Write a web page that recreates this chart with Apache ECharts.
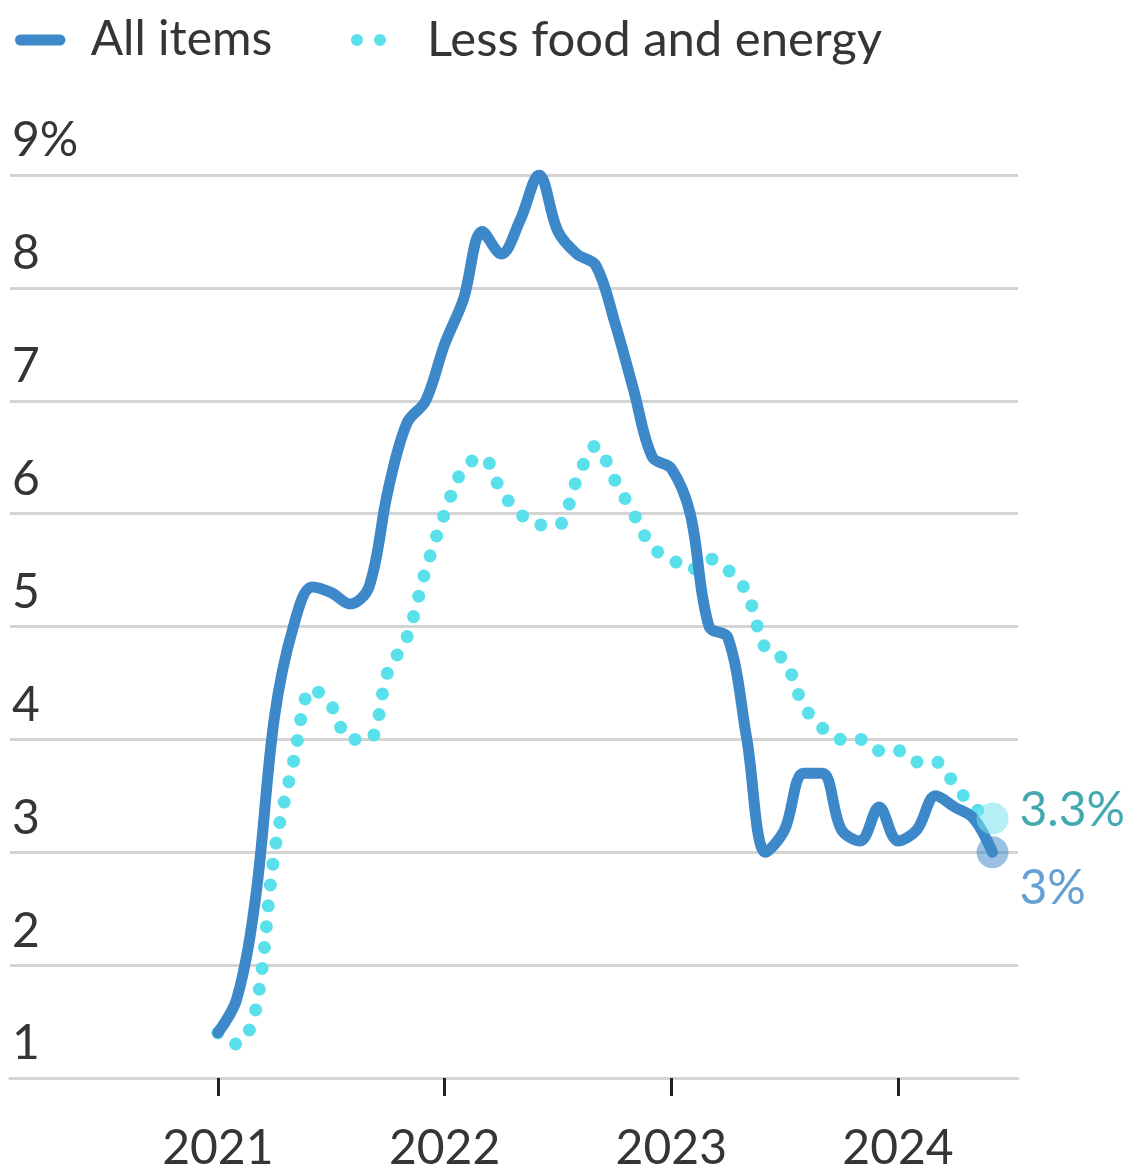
<!DOCTYPE html>
<html>
<head>
<meta charset="utf-8">
<script src="https://cdn.jsdelivr.net/npm/echarts@6/dist/echarts.min.js"></script>
<style>
  html, body { margin: 0; padding: 0; background: #fff; overflow: hidden; }
  #chart { width: 1127px; height: 1169px; }
</style>
</head>
<body>
<div id="chart"></div>
<script>
// Monthly CPI, year-over-year change (%), Jan 2021 – Jun 2024
const months = [
  '2021-01','2021-02','2021-03','2021-04','2021-05','2021-06','2021-07','2021-08','2021-09','2021-10','2021-11','2021-12',
  '2022-01','2022-02','2022-03','2022-04','2022-05','2022-06','2022-07','2022-08','2022-09','2022-10','2022-11','2022-12',
  '2023-01','2023-02','2023-03','2023-04','2023-05','2023-06','2023-07','2023-08','2023-09','2023-10','2023-11','2023-12',
  '2024-01','2024-02','2024-03','2024-04','2024-05','2024-06'
];
const allItems = [
  1.4, 1.7, 2.6, 4.2, 5.0, 5.35, 5.3, 5.2, 5.35, 6.2, 6.8, 7.0,
  7.5, 7.9, 8.5, 8.3, 8.6, 9.0, 8.5, 8.3, 8.2, 7.7, 7.1, 6.5,
  6.4, 6.0, 5.0, 4.9, 4.0, 3.0, 3.2, 3.7, 3.7, 3.2, 3.1, 3.4,
  3.1, 3.2, 3.5, 3.4, 3.3, 3.0
];
const lessFoodEnergy = [
  1.4, 1.3, 1.6, 3.0, 3.8, 4.45, 4.3, 4.0, 4.0, 4.6, 4.9, 5.5,
  6.0, 6.4, 6.5, 6.2, 6.0, 5.9, 5.9, 6.3, 6.6, 6.3, 6.0, 5.7,
  5.6, 5.5, 5.6, 5.5, 5.3, 4.8, 4.7, 4.3, 4.1, 4.0, 4.0, 3.9,
  3.9, 3.8, 3.8, 3.6, 3.4, 3.3
];
const yearTickMonths = ['2021-01', '2022-01', '2023-01', '2024-01'];
const yearLabels = ['2021', '2022', '2023', '2024'];
const yTicks = [1, 2, 3, 4, 5, 6, 7, 8, 9];

const BLUE = '#3d88c8';
const CYAN = '#5ae0ea';
const TEAL = '#14939a';
const TEXT = '#353535';
const FONT = 'Lato, "Noto Sans", sans-serif';
const FS = 48;

const toPairs = vals => vals.map((v, i) => [i, v]);
const tickIdx = yearTickMonths.map(m => months.indexOf(m));
const last = months.length - 1;

const chart = echarts.init(document.getElementById('chart'), null, { renderer: 'canvas' });

chart.setOption({
  animation: false,
  backgroundColor: '#fff',
  textStyle: { fontFamily: FONT },
  legend: [
    {
      data: [{ name: 'All items', icon: 'path://M6,0 H49 A6,6 0 0 1 49,12 H6 A6,6 0 0 1 6,0 Z', itemStyle: { color: BLUE } }],
      left: 10, top: 7, itemWidth: 55, itemHeight: 11,
      selectedMode: false,
      textStyle: { fontSize: FS, color: TEXT, fontFamily: FONT, lineHeight: 56, padding: [0, 0, 0, 18] }
    },
    {
      data: [{ name: 'Less food and energy', icon: 'path://M0,6 A6,6 0 1 0 12,6 A6,6 0 1 0 0,6 Z M23,6 A6,6 0 1 0 35,6 A6,6 0 1 0 23,6 Z', itemStyle: { color: CYAN } }],
      left: 346, top: 7, itemWidth: 35, itemHeight: 12,
      selectedMode: false,
      textStyle: { fontSize: FS + 1, color: TEXT, fontFamily: FONT, lineHeight: 56, padding: [0, 0, 0, 36] }
    }
  ],
  grid: { left: 10, right: 109, top: 175, bottom: 91, containLabel: false, outerBoundsMode: 'none' },
  xAxis: {
    type: 'value',
    min: -11,
    max: 42.35,
    axisLine: { show: true, lineStyle: { color: '#d4d4d4', width: 3 } },
    axisTick: {
      show: true,
      customValues: tickIdx,
      length: 18,
      lineStyle: { color: '#222', width: 3 }
    },
    axisLabel: {
      show: true,
      customValues: tickIdx,
      formatter: v => yearLabels[tickIdx.indexOf(v)],
      fontSize: FS,
      color: TEXT,
      fontFamily: FONT,
      margin: 47
    },
    splitLine: { show: false }
  },
  yAxis: {
    type: 'value',
    min: 1,
    max: 9,
    interval: 1,
    axisLine: { show: false },
    axisTick: { show: false },
    axisLabel: {
      inside: true,
      margin: 2,
      verticalAlign: 'bottom',
      padding: [0, 0, 10, 0],
      fontSize: FS,
      color: TEXT,
      fontFamily: FONT,
      formatter: v => (v === yTicks[yTicks.length - 1] ? v + '%' : String(v))
    },
    splitLine: { show: true, lineStyle: { color: '#d4d4d4', width: 3 } }
  },
  series: [
    {
      name: 'Less food and energy',
      type: 'line',
      data: toPairs(lessFoodEnergy),
      smooth: 0.35,
      showSymbol: false,
      lineStyle: { color: CYAN, width: 13, type: [0, 21], cap: 'round' },
      itemStyle: { color: CYAN },
      z: 2
    },
    {
      name: 'All items',
      type: 'line',
      data: toPairs(allItems),
      smooth: 0.35,
      showSymbol: false,
      lineStyle: { color: BLUE, width: 11, cap: 'round', join: 'round' },
      itemStyle: { color: BLUE },
      z: 3
    },
    {
      type: 'scatter',
      data: [[last, lessFoodEnergy[last]]],
      symbolSize: 32,
      itemStyle: { color: 'rgba(120, 226, 236, 0.7)' },
      label: {
        show: true,
        position: 'right',
        distance: 11,
        offset: [0, -8],
        formatter: p => p.value[1] + '%',
        fontSize: FS,
        color: TEAL,
        fontFamily: FONT
      },
      z: 4
    },
    {
      type: 'scatter',
      data: [[last, allItems[last]]],
      symbolSize: 32,
      itemStyle: { color: 'rgba(61, 136, 200, 0.65)' },
      label: {
        show: true,
        position: 'right',
        distance: 11,
        offset: [0, 36],
        formatter: p => p.value[1] + '%',
        fontSize: FS,
        color: BLUE,
        fontFamily: FONT
      },
      z: 5
    }
  ]
});
</script>
</body>
</html>
